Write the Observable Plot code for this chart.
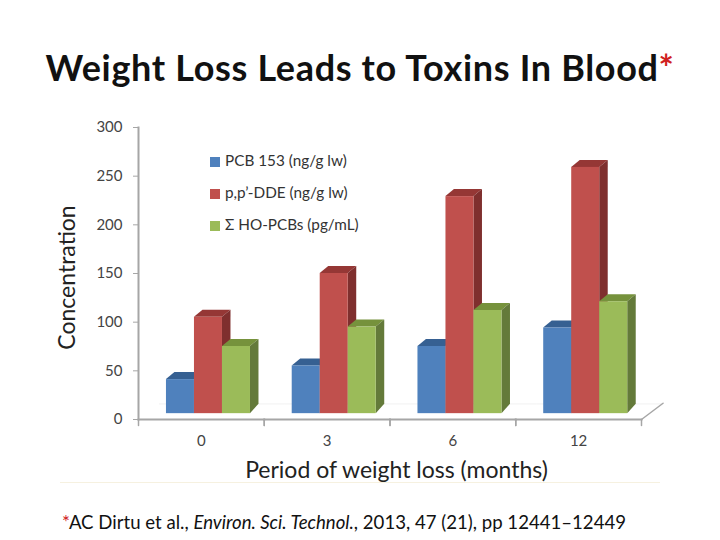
<!DOCTYPE html>
<html>
<head>
<meta charset="utf-8">
<script src="https://cdn.jsdelivr.net/npm/d3@7"></script>
<script src="https://cdn.jsdelivr.net/npm/@observablehq/plot@0.6"></script>
<style>
  html, body { margin: 0; padding: 0; background: #fff; }
  #page { position: relative; width: 720px; height: 540px; overflow: hidden; font-family: Lato, sans-serif; color: #111; }
  #title { position: absolute; left: 0; width: 720px; top: 44px; text-align: center; font-size: 36px; letter-spacing: 0.66px; font-weight: 700; white-space: nowrap; line-height: 46px; }
  #title span, #caption span { color: #d02020; }
  #chart { position: absolute; left: 0; top: 112px; }
  #legend { position: absolute; left: 210px; top: 150px; font-size: 15.3px; color: #333; }
  #legend div { height: 32px; line-height: 20px; white-space: nowrap; }
  #legend i { display: inline-block; width: 10px; height: 10px; margin-right: 5px; vertical-align: -0.5px; }
  #rule { position: absolute; left: 60px; width: 600px; top: 482px; height: 1px; background: #f6f1e0; }
  #caption { position: absolute; left: 62px; top: 510px; font-size: 18.6px; white-space: nowrap; line-height: 24px; color: #111; }
</style>
</head>
<body>
<div id="page">
  <div id="title"></div>
  <div id="chart"></div>
  <div id="legend"></div>
  <div id="rule"></div>
  <div id="caption">
    <span>*</span>AC Dirtu et al., <em>Environ. Sci. Technol.</em>, 2013, 47 (21), pp 12441–12449
  </div>
</div>
<script>
const titleText = "Weight Loss Leads to Toxins In Blood";
const yLabel = "Concentration";
const xLabel = "Period of weight loss (months)";
const months = ["0", "3", "6", "12"];
const seriesNames = ["PCB 153 (ng/g lw)", "p,p’-DDE (ng/g lw)", "Σ HO-PCBs (pg/mL)"];
const pcb153 = [41, 55, 75, 94];
const dde = [105, 150, 229, 259];
const hoPcbs = [75, 95, 112, 121];
const frontColors = ["#4f81bd", "#c0504d", "#9bbb59"];
const sideColors = ["#385d8a", "#7f2f2e", "#647a3a"];
const topColors = ["#366092", "#953735", "#76923c"];
const floorFront = 6;   // the 3D floor sits just above the axis
const floorBack = 16;   // back edge of the 3D floor
const axisColor = "#a6a6a6";

const rows = [];
[pcb153, dde, hoPcbs].forEach((values, s) =>
  values.forEach((value, m) => rows.push({month: months[m], series: seriesNames[s], value}))
);

// Turn every bar into a little box: a top and a side face behind the front rect.
function box3d(index, scales, values, dimensions, context, next) {
  const g = next(index, scales, values, dimensions, context);
  const ns = "http://www.w3.org/2000/svg";
  const dx = 8.5, dyTop = 7, dyBottom = 9.5;
  g.querySelectorAll("rect").forEach((r) => {
    const x = +r.getAttribute("x"), y = +r.getAttribute("y");
    const w = +r.getAttribute("width"), h = +r.getAttribute("height");
    const i = frontColors.indexOf(r.getAttribute("fill"));
    const add = (pts, fill) => {
      const p = document.createElementNS(ns, "polygon");
      p.setAttribute("points", pts.map((q) => q.join(",")).join(" "));
      p.setAttribute("fill", fill);
      g.insertBefore(p, r);
    };
    add([[x, y], [x + dx, y - dyTop], [x + w + dx, y - dyTop], [x + w, y]], topColors[i]);
    add([[x + w, y], [x + w + dx, y - dyTop], [x + w + dx, y + h - dyBottom], [x + w, y + h]], sideColors[i]);
  });
  return g;
}

const edgeTick = {draw(ctx, l) { ctx.moveTo(0, 0); ctx.lineTo(0, -l); }};

const plot = Plot.plot({
  width: 720,
  height: 378,
  marginTop: 15,
  marginBottom: 71,
  marginLeft: 138,
  marginRight: 79,
  style: {background: "transparent", fontFamily: "Lato, sans-serif"},
  fx: {domain: months, padding: 0, round: false, label: null},
  x: {domain: seriesNames, round: false, paddingInner: 0, paddingOuter: 0.745, align: 0.67, axis: null},
  y: {domain: [0, 300], label: null},
  color: {domain: seriesNames, range: frontColors},
  marks: [
    Plot.ruleY([floorBack], {stroke: "#f1f1f1", dx: 21}),
    Plot.frame({anchor: "bottom", stroke: axisColor, strokeWidth: 2}),
    Plot.frame({anchor: "left", stroke: axisColor, strokeWidth: 2, fx: () => months[0]}),
    Plot.vector([0], {frameAnchor: "bottom-left", length: 6, rotate: 180, anchor: "start", shape: edgeTick, stroke: axisColor, strokeWidth: 1.5}),
    Plot.vector([0], {frameAnchor: "bottom-right", length: 6, rotate: 180, anchor: "start", shape: edgeTick, stroke: axisColor, strokeWidth: 1.5}),
    Plot.vector([months[3]], {fx: (d) => d, frameAnchor: "bottom-right", length: 27, rotate: 53, anchor: "start", shape: edgeTick, stroke: axisColor, strokeWidth: 1.5}),
    Plot.barY(rows, {fx: "month", x: "series", y1: () => floorFront, y2: "value", fill: "series", render: box3d}),
    Plot.axisY({ticks: d3.range(0, 301, 50), tickSize: 5, tickPadding: 11, fontSize: 15, label: null, stroke: axisColor, fill: "#444"}),
    Plot.axisFx({anchor: "bottom", tickSize: 0, tickPadding: 16, fontSize: 15, label: null, fill: "#444"}),
    Plot.text([yLabel], {fx: () => months[0], frameAnchor: "left", rotate: -90, textAnchor: "middle", lineAnchor: "middle", dx: -71, dy: 4, fontSize: 23, fill: "#222"}),
    Plot.text([xLabel], {fx: () => months[1], frameAnchor: "bottom-right", textAnchor: "middle", lineAnchor: "middle", dx: 6.5, dy: 51, fontSize: 23, fill: "#222"})
  ]
});
document.getElementById("chart").appendChild(plot);

document.getElementById("title").innerHTML = titleText + "<span>*</span>";
const legend = document.getElementById("legend");
seriesNames.forEach((name, i) => {
  const row = document.createElement("div");
  const swatch = document.createElement("i");
  swatch.style.background = frontColors[i];
  row.appendChild(swatch);
  row.appendChild(document.createTextNode(name));
  legend.appendChild(row);
});
</script>
</body>
</html>
